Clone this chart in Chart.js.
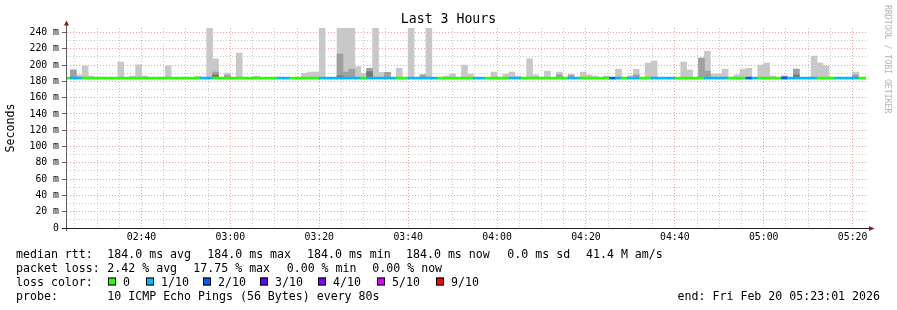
<!DOCTYPE html>
<html>
<head>
<meta charset="utf-8">
<title>Last 3 Hours</title>
<script src="https://cdn.jsdelivr.net/npm/chart.js@4.4.1/dist/chart.umd.min.js"></script>
<style>
  html, body { margin: 0; padding: 0; background: #fff; }
  canvas { display: block; }
</style>
</head>
<body>
<canvas id="graph" width="897" height="310"></canvas>
<script>
const n = null;

// time range, seconds since midnight (02:23:01 .. 05:23:01), 80 s steps
const T_START = 8581;
const T_END = 19381;
const STEP = 80;
const FIRST = 8600;

const xLabels = ['02:40', '03:00', '03:20', '03:40', '04:00', '04:20', '04:40', '05:00', '05:20'];
const yTicks = [0, 10, 20, 30, 40, 50, 60, 70, 80, 90, 100, 110, 120, 130, 140, 150, 160, 170, 180, 190, 200, 210, 220, 230, 240];

// median rtt (ms), one per step
const median = [
  184, 184, 184, 184, 184, 184, 184, 184, 184, 184,
  184, 184, 184, 184, 184, 184, 184, 184, 184, 184,
  184, 184, 184, 184, 184, 184, 184, 184, 184, 184,
  184, 184, 184, 184, 184, 184, 184, 184, 184, 184,
  184, 184, 184, 184, 184, 184, 184, 184, 184, 184,
  184, 184, 184, 184, 184, 184, 184, 184, 184, 184,
  184, 184, 184, 184, 184, 184, 184, 184, 184, 184,
  184, 184, 184, 184, 184, 184, 184, 184, 184, 184,
  184, 184, 184, 184, 184, 184, 184, 184, 184, 184,
  184, 184, 184, 184, 184, 184, 184, 184, 184, 184,
  184, 184, 184, 184, 184, 184, 184, 184, 184, 184,
  184, 184, 184, 184, 184, 184, 184, 184, 184, 184,
  184, 184, 184, 184, 184, 184, 184, 184, 184, 184,
  184, 184, 184, 184, 184, 184
];

// lost pings out of 10, per step
const loss = [
  0, 1, 1, 0, 0, 0, 0, 0, 0, 0,
  0, 0, 0, 0, 0, 0, 0, 0, 0, 0,
  0, 0, 0, 1, 1, 0, 0, 0, 0, 0,
  0, 0, 0, 0, 0, 0, 1, 1, 0, 0,
  0, 0, 0, 1, 1, 1, 1, 1, 1, 1,
  0, 1, 1, 1, 1, 1, 0, 0, 1, 1,
  1, 1, 1, 0, 0, 0, 0, 0, 0, 1,
  1, 0, 0, 0, 0, 1, 1, 0, 0, 0,
  0, 0, 0, 0, 0, 1, 1, 0, 0, 0,
  0, 0, 2, 1, 0, 1, 1, 0, 0, 1,
  1, 1, 1, 0, 0, 0, 0, 0, 1, 1,
  1, 1, 0, 0, 0, 2, 1, 0, 0, 0,
  0, 2, 1, 1, 1, 1, 1, 0, 0, 0,
  1, 1, 1, 1, 0, 0
];

// smoke: highest ping (ms), per step
const smokeMax = [
  n, 194, 188, 199, 186.5, n, n, n, n, 203.7,
  n, 186.5, 200.4, 186.5, n, n, n, 199, n, n,
  n, n, 186.5, n, 250, 207.7, n, 190.2, n, 214.7,
  n, n, 186.5, n, n, n, n, n, n, n,
  190, 191.4, 191.4, 250, n, n, 250, 250, 250, 198,
  190, 196, 250, 191, 191, n, 196, n, 250, n,
  188, 250, n, n, 186.5, 189, n, 200, 189, n,
  n, n, 191.4, n, 189, 191.4, 186.5, n, 207.7, 188,
  n, 192.6, n, 191.4, n, 188, n, 191.4, 188, 186.5,
  n, 186.5, n, 195, n, 187, 195, n, 202.5, 205,
  n, n, n, n, 203.7, 194, n, 208.6, 217, 189,
  189, 195, n, 188, 195, 196, n, 200, 202.5, 186.5,
  n, 186.5, n, 195, n, n, 211, 202.5, 199, n,
  n, n, n, 191.4, n, n
];

// smoke: inner pings (ms)
const smokeMid = [
  n, 194, n, n, n, n, n, n, n, n,
  n, n, n, n, n, n, n, n, n, n,
  n, n, n, n, n, 191.4, n, 187.5, n, n,
  n, n, n, n, n, n, n, n, n, n,
  n, n, n, n, n, n, 213.5, 191.4, 195, n,
  n, 196, n, n, 191, n, n, n, n, n,
  188, n, n, n, n, n, n, n, n, n,
  n, n, n, n, n, n, n, n, n, n,
  n, n, n, 188, n, 188, n, n, n, n,
  n, n, n, n, n, n, 188, n, n, n,
  n, n, n, n, n, n, n, 208.6, 192.6, n,
  n, n, n, n, n, n, n, n, n, n,
  n, 186.5, n, 195, n, n, n, n, n, n,
  n, n, n, 188, n, n
];

const smokeLow = [
  n, n, n, n, n, n, n, n, n, n,
  n, n, n, n, n, n, n, n, n, n,
  n, n, n, n, n, 188, n, n, n, n,
  n, n, n, n, n, n, n, n, n, n,
  n, n, n, n, n, n, 187, n, n, n,
  n, 192, n, n, n, n, n, n, n, n,
  n, n, n, n, n, n, n, n, n, n,
  n, n, n, n, n, n, n, n, n, n,
  n, n, n, n, n, n, n, n, n, n,
  n, n, n, n, n, n, n, n, n, n,
  n, n, n, n, n, n, n, n, n, n,
  n, n, n, n, n, n, n, n, n, n,
  n, n, n, 188, n, n, n, n, n, n,
  n, n, n, n, n, n
];

const lossLabels = ['0', '1/10', '2/10', '3/10', '4/10', '5/10', '9/10'];
const lossColors = ['#26ff00', '#00b8ff', '#0059ff', '#5e00ff', '#7e00ff', '#dd00ff', '#ff0000'];
const lossSquareX = [108, 146, 203, 260, 318, 377, 436];

const rttStats = ['184.0 ms avg', '184.0 ms max', '184.0 ms min', '184.0 ms now', '0.0 ms sd', '41.4 M am/s'];
const rttStatsX = [107.3, 207.3, 307, 406, 507.3, 586];
const lossStats = ['2.42 % avg', '17.75 % max', '0.00 % min', '0.00 % now'];
const lossStatsX = [107.3, 193.3, 286.7, 372.3];
const probeText = '10 ICMP Echo Pings (56 Bytes) every 80s';
const endText = 'end: Fri Feb 20 05:23:01 2026';

const FONT = '"DejaVu Sans Mono", monospace';
const GRID = '#cacaca';
const MGRID = '#eba3a3';
const AXIS = '#606060';
const LINE_HALF = 1.23; // half thickness of the median line, in ms

const times = median.map((_, i) => FIRST + i * STEP);
const toSec = s => { const p = s.split(':').map(Number); return p[0] * 3600 + p[1] * 60; };
const majorTimes = xLabels.map(toSec);
const xTicks = [];
for (let t = 8700; t <= 19200; t += 300) xTicks.push(t);

function floating(values, base) {
  const out = [];
  values.forEach((v, i) => {
    if (v !== null) out.push({ x: times[i], y: [base[i], v] });
  });
  return out;
}

const medianBars = median.map((m, i) => ({ x: times[i], y: [m - LINE_HALF, m + LINE_HALF] }));

const barCommon = {
  grouped: false,
  barPercentage: 1,
  categoryPercentage: 1,
  borderWidth: 0,
  clip: 0
};

const decor = {
  id: 'decor',
  afterDraw(chart) {
    const c = chart.ctx;
    const a = chart.chartArea;
    c.save();

    // title
    c.fillStyle = '#000';
    c.font = '13.2px ' + FONT;
    c.textAlign = 'center';
    c.textBaseline = 'middle';
    c.fillText('Last 3 Hours', 448.5, 19.5);

    // axes with arrows (solid)
    c.setLineDash([]);
    c.lineWidth = 1;
    c.strokeStyle = AXIS;
    c.beginPath();
    c.moveTo(a.left + 0.5, a.bottom + 3);
    c.lineTo(a.left + 0.5, 24);
    c.stroke();
    c.strokeStyle = '#202020';
    c.beginPath();
    c.moveTo(a.left - 4, a.bottom + 0.5);
    c.lineTo(870, a.bottom + 0.5);
    c.stroke();
    c.fillStyle = '#8b1a1a';
    c.beginPath();
    c.moveTo(a.left + 0.5, 20.5);
    c.lineTo(a.left - 2, 25.5);
    c.lineTo(a.left + 3, 25.5);
    c.closePath();
    c.fill();
    c.beginPath();
    c.moveTo(874.5, a.bottom + 0.5);
    c.lineTo(869, a.bottom - 2);
    c.lineTo(869, a.bottom + 3);
    c.closePath();
    c.fill();

    // legend
    c.fillStyle = '#000';
    c.font = '11.6px ' + FONT;
    c.textAlign = 'left';
    c.textBaseline = 'alphabetic';
    const rows = [257.5, 271.7, 286, 300.3];
    c.fillText('median rtt:', 16, rows[0]);
    rttStats.forEach((s, i) => c.fillText(s, rttStatsX[i], rows[0]));
    c.fillText('packet loss:', 16, rows[1]);
    lossStats.forEach((s, i) => c.fillText(s, lossStatsX[i], rows[1]));
    c.fillText('loss color:', 16, rows[2]);
    lossLabels.forEach((s, i) => {
      const x = lossSquareX[i];
      c.fillStyle = lossColors[i];
      c.fillRect(x, 277.5, 8, 8);
      c.strokeStyle = '#000';
      c.strokeRect(x + 0.5, 278, 7, 7);
      c.fillStyle = '#000';
      c.fillText(s, x + 15, rows[2]);
    });
    c.fillText('probe:', 16, rows[3]);
    c.fillText(probeText, 107.3, rows[3]);
    c.textAlign = 'right';
    c.fillText(endText, 880, rows[3]);

    // watermark
    c.translate(887, 5);
    c.rotate(Math.PI / 2);
    c.textAlign = 'left';
    c.textBaseline = 'middle';
    c.fillStyle = '#b4b4b4';
    c.font = '8.2px ' + FONT;
    c.fillText('RRDTOOL / TOBI OETIKER', 0, 0);
    c.restore();
  }
};

new Chart(document.getElementById('graph'), {
  type: 'bar',
  data: {
    datasets: [
      Object.assign({ data: medianBars, backgroundColor: ctx => lossColors[loss[ctx.dataIndex]] }, barCommon),
      Object.assign({ data: floating(smokeLow, median), backgroundColor: '#787878' }, barCommon),
      Object.assign({ data: floating(smokeMid, median), backgroundColor: '#a0a0a0' }, barCommon),
      Object.assign({ data: floating(smokeMax, median), backgroundColor: '#c8c8c8' }, barCommon)
    ]
  },
  options: {
    responsive: false,
    animation: false,
    devicePixelRatio: 1,
    layout: { padding: { left: 0, right: 31, top: 28, bottom: 62 } },
    plugins: {
      legend: { display: false },
      tooltip: { enabled: false },
      title: { display: false }
    },
    scales: {
      x: {
        type: 'linear',
        min: T_START,
        max: T_END,
        offset: false,
        afterBuildTicks: axis => { axis.ticks = xTicks.map(v => ({ value: v })); },
        afterFit: axis => { axis.height = 20; },
        grid: {
          offset: false,
          drawTicks: false,
          color: ctx => (ctx.tick && majorTimes.includes(ctx.tick.value)) ? MGRID : GRID
        },
        border: { color: '#202020', dash: [1, 2] },
        ticks: {
          autoSkip: false,
          maxRotation: 0,
          padding: 4,
          color: '#000',
          font: { family: FONT, size: 9.8 },
          callback: v => {
            const i = majorTimes.indexOf(v);
            return i >= 0 ? xLabels[i] : '';
          }
        }
      },
      y: {
        min: 0,
        max: 245.5,
        afterBuildTicks: axis => { axis.ticks = yTicks.map(v => ({ value: v })); },
        afterFit: axis => { axis.width = 66; },
        grid: {
          tickLength: 4,
          color: ctx => (ctx.tick && ctx.tick.value % 20 === 0) ? MGRID : GRID,
          tickColor: ctx => (ctx.tick && ctx.tick.value % 20 === 0) ? AXIS : 'rgba(0,0,0,0)'
        },
        border: { color: AXIS, dash: [1, 2] },
        title: {
          display: true,
          text: 'Seconds',
          color: '#000',
          font: { family: FONT, size: 11.6 },
          padding: { top: 4, bottom: 4 }
        },
        ticks: {
          autoSkip: false,
          padding: 3,
          color: '#000',
          font: { family: FONT, size: 9.8 },
          callback: v => v % 20 !== 0 ? '' : (v === 0 ? '0' : v + ' m')
        }
      }
    }
  },
  plugins: [decor]
});
</script>
</body>
</html>
